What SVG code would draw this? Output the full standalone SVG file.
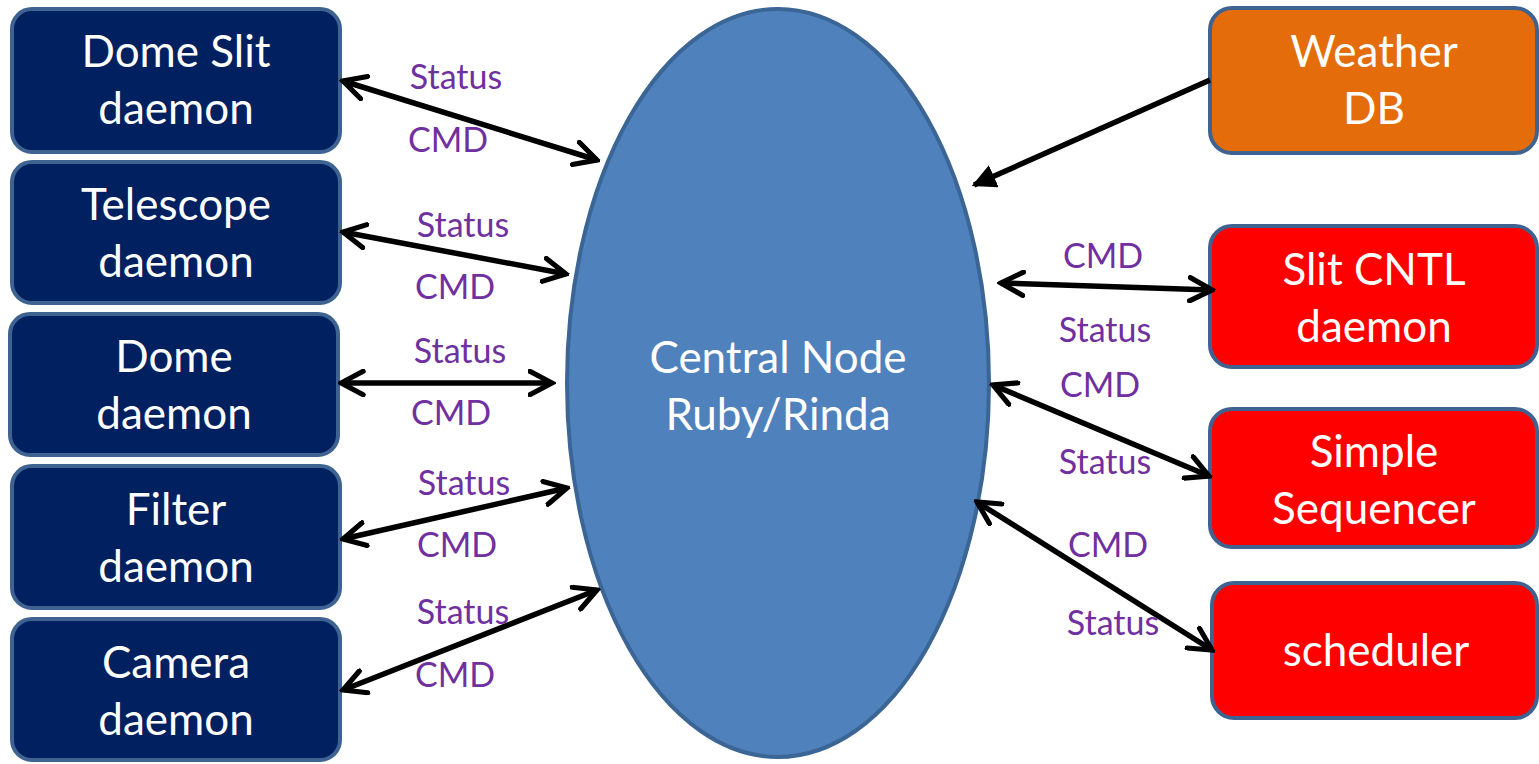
<svg xmlns="http://www.w3.org/2000/svg" width="1539" height="764" viewBox="0 0 1539 764">
<defs>
<style>
.box{stroke:#3e6391;stroke-width:4}
.navy{fill:#002060}
.orange{fill:#e46c0a}
.red{fill:#ff0000}
.t{font-family:Lato,"Open Sans","Liberation Sans",sans-serif;font-size:44px;fill:#ffffff;text-anchor:middle}
.lbl{font-family:Lato,"Open Sans","Liberation Sans",sans-serif;font-size:34px;fill:#7030a0;text-anchor:middle}
.c{stroke:#000;stroke-width:5.5;fill:none}
</style>
<marker id="open" viewBox="0 0 12 12" refX="10.5" refY="6" markerWidth="28" markerHeight="28" markerUnits="userSpaceOnUse" orient="auto-start-reverse">
<path d="M1,1 L10.5,6 L1,11" fill="none" stroke="#000" stroke-width="2.2" stroke-linecap="round" stroke-linejoin="miter"/>
</marker>
<marker id="solid" viewBox="0 0 10 10" refX="9" refY="5" markerWidth="24" markerHeight="24" markerUnits="userSpaceOnUse" orient="auto">
<path d="M0,0 L10,5 L0,10 Z" fill="#000"/>
</marker>
</defs>

<g id="central-node">
<ellipse cx="778" cy="383" rx="211" ry="374" fill="#4f81bd" stroke="#3b6594" stroke-width="4"/>
<text class="t" x="778" y="373">Central Node</text>
<text class="t" x="778" y="430">Ruby/Rinda</text>
</g>

<g id="dome-slit-daemon">
<rect class="box navy" x="12" y="9" width="328" height="143" rx="20"/>
<text class="t" x="176" y="67">Dome Slit</text>
<text class="t" x="176" y="124">daemon</text>
</g>
<g id="telescope-daemon">
<rect class="box navy" x="12" y="162" width="328" height="141" rx="20"/>
<text class="t" x="176" y="220">Telescope</text>
<text class="t" x="176" y="277">daemon</text>
</g>
<g id="dome-daemon">
<rect class="box navy" x="10" y="314" width="328" height="141" rx="20"/>
<text class="t" x="174" y="372">Dome</text>
<text class="t" x="174" y="429">daemon</text>
</g>
<g id="filter-daemon">
<rect class="box navy" x="12" y="466" width="328" height="142" rx="20"/>
<text class="t" x="176" y="525">Filter</text>
<text class="t" x="176" y="582">daemon</text>
</g>
<g id="camera-daemon">
<rect class="box navy" x="12" y="619" width="328" height="141" rx="20"/>
<text class="t" x="176" y="678">Camera</text>
<text class="t" x="176" y="735">daemon</text>
</g>

<g id="weather-db">
<rect class="box orange" x="1210" y="8" width="327" height="145" rx="22"/>
<text class="t" x="1374" y="67">Weather</text>
<text class="t" x="1374" y="124">DB</text>
</g>
<g id="slit-cntl-daemon">
<rect class="box red" x="1210" y="226" width="327" height="141" rx="22"/>
<text class="t" x="1374" y="285">Slit CNTL</text>
<text class="t" x="1374" y="342">daemon</text>
</g>
<g id="simple-sequencer">
<rect class="box red" x="1210" y="409" width="327" height="138" rx="22"/>
<text class="t" x="1374" y="467">Simple</text>
<text class="t" x="1374" y="524">Sequencer</text>
</g>
<g id="scheduler">
<rect class="box red" x="1212" y="583" width="325" height="135" rx="22"/>
<text class="t" x="1376" y="666">scheduler</text>
</g>

<g id="connectors">
<line class="c" x1="343" y1="81" x2="597" y2="160" marker-start="url(#open)" marker-end="url(#open)"/>
<line class="c" x1="343" y1="232" x2="566" y2="274" marker-start="url(#open)" marker-end="url(#open)"/>
<line class="c" x1="341" y1="383" x2="552" y2="383" marker-start="url(#open)" marker-end="url(#open)"/>
<line class="c" x1="343" y1="539" x2="567" y2="488" marker-start="url(#open)" marker-end="url(#open)"/>
<line class="c" x1="343" y1="690" x2="597" y2="590" marker-start="url(#open)" marker-end="url(#open)"/>
<line class="c" x1="1210" y1="80" x2="974" y2="185" marker-end="url(#solid)"/>
<line class="c" x1="1001" y1="283" x2="1212" y2="290" marker-start="url(#open)" marker-end="url(#open)"/>
<line class="c" x1="993" y1="385" x2="1209" y2="476" marker-start="url(#open)" marker-end="url(#open)"/>
<line class="c" x1="977" y1="502" x2="1212" y2="650" marker-start="url(#open)" marker-end="url(#open)"/>

<text class="lbl" x="456" y="89">Status</text>
<text class="lbl" x="448" y="152">CMD</text>
<text class="lbl" x="463" y="237">Status</text>
<text class="lbl" x="455" y="299">CMD</text>
<text class="lbl" x="460" y="363">Status</text>
<text class="lbl" x="451" y="425">CMD</text>
<text class="lbl" x="464" y="495">Status</text>
<text class="lbl" x="457" y="557">CMD</text>
<text class="lbl" x="463" y="624">Status</text>
<text class="lbl" x="455" y="687">CMD</text>
<text class="lbl" x="1103" y="268">CMD</text>
<text class="lbl" x="1105" y="342">Status</text>
<text class="lbl" x="1100" y="397">CMD</text>
<text class="lbl" x="1105" y="474">Status</text>
<text class="lbl" x="1108" y="557">CMD</text>
<text class="lbl" x="1113" y="635">Status</text>
</g>
</svg>
